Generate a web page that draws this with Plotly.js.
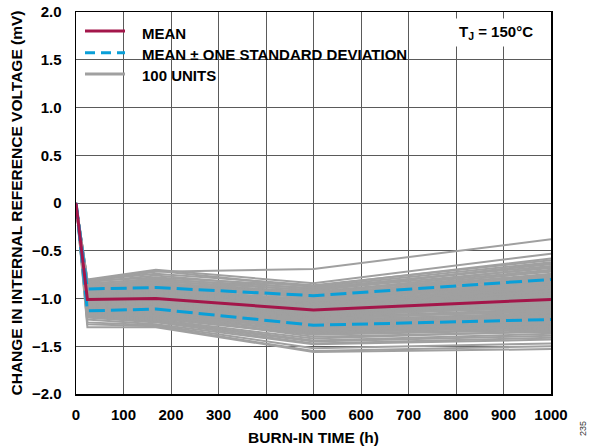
<!DOCTYPE html>
<html>
<head>
<meta charset="utf-8">
<script src="https://cdn.plot.ly/plotly-3.0.1.min.js"></script>
<style>
html,body{margin:0;padding:0;background:#fff;}
#chart{width:592px;height:448px;}
</style>
</head>
<body>
<div id="chart"></div>
<script>
// ---------------- DATA ----------------
const hours = [0, 24, 168, 500, 1000];
const meanMv = [0, -1.01, -1.00, -1.12, -1.01];
const meanPlusSdMv = [0, -0.90, -0.885, -0.97, -0.80];
const meanMinusSdMv = [0, -1.13, -1.11, -1.28, -1.22];
const unitStartMv = 0;
const unitsAt24h = [
 -0.82,-0.80,-0.81,-0.81,-0.82,-0.83,-0.84,-0.85,-0.86,-0.86,
 -0.87,-0.88,-0.88,-0.89,-0.89,-0.90,-0.90,-0.90,-0.91,-0.91,
 -0.92,-0.92,-0.93,-0.93,-0.93,-0.94,-0.94,-0.94,-0.95,-0.95,
 -0.95,-0.96,-0.96,-0.96,-0.97,-0.97,-0.97,-0.97,-0.98,-0.98,
 -0.98,-0.99,-0.99,-0.99,-1.00,-1.00,-1.00,-1.00,-1.01,-1.01,
 -1.01,-1.01,-1.02,-1.02,-1.02,-1.03,-1.03,-1.03,-1.03,-1.04,
 -1.04,-1.04,-1.05,-1.05,-1.05,-1.06,-1.06,-1.06,-1.06,-1.07,
 -1.07,-1.07,-1.08,-1.08,-1.08,-1.09,-1.09,-1.10,-1.10,-1.10,
 -1.11,-1.11,-1.12,-1.12,-1.12,-1.13,-1.13,-1.14,-1.15,-1.15,
 -1.16,-1.16,-1.17,-1.18,-1.19,-1.20,-1.22,-1.25,-1.27,-1.30
];
const unitsAt168h = [
 -0.72,-0.70,-0.74,-0.71,-0.78,-0.76,-0.80,-0.79,-0.82,-0.84,
 -0.81,-0.85,-0.83,-0.87,-0.86,-0.88,-0.84,-0.89,-0.90,-0.87,
 -0.91,-0.89,-0.92,-0.93,-0.90,-0.94,-0.92,-0.95,-0.93,-0.96,
 -0.94,-0.97,-0.95,-0.96,-0.98,-0.96,-0.97,-0.99,-0.98,-0.97,
 -1.00,-0.98,-0.99,-1.01,-0.99,-1.00,-1.02,-1.00,-1.01,-1.03,
 -1.01,-1.02,-1.04,-1.02,-1.03,-1.05,-1.03,-1.04,-1.06,-1.04,
 -1.05,-1.07,-1.05,-1.06,-1.08,-1.06,-1.07,-1.09,-1.08,-1.10,
 -1.08,-1.11,-1.09,-1.12,-1.10,-1.13,-1.11,-1.14,-1.12,-1.15,
 -1.13,-1.16,-1.14,-1.17,-1.15,-1.18,-1.16,-1.19,-1.17,-1.20,
 -1.21,-1.18,-1.22,-1.23,-1.24,-1.25,-1.27,-1.28,-1.29,-1.30
];
const unitsAt500h = [
 -0.69,-0.84,-0.86,-0.88,-0.87,-0.90,-0.89,-0.92,-0.91,-0.93,
 -0.95,-0.94,-0.96,-0.97,-0.95,-0.98,-1.00,-0.99,-1.01,-0.97,
 -1.02,-1.03,-1.01,-1.04,-1.05,-1.03,-1.06,-1.05,-1.07,-1.06,
 -1.08,-1.07,-1.09,-1.08,-1.10,-1.09,-1.11,-1.10,-1.12,-1.11,
 -1.13,-1.12,-1.10,-1.14,-1.13,-1.11,-1.15,-1.14,-1.12,-1.16,
 -1.13,-1.15,-1.17,-1.14,-1.16,-1.18,-1.17,-1.19,-1.16,-1.20,
 -1.18,-1.21,-1.19,-1.22,-1.20,-1.23,-1.21,-1.24,-1.22,-1.25,
 -1.23,-1.26,-1.24,-1.27,-1.25,-1.28,-1.26,-1.29,-1.27,-1.30,
 -1.28,-1.31,-1.30,-1.32,-1.33,-1.34,-1.32,-1.35,-1.36,-1.37,
 -1.38,-1.40,-1.42,-1.44,-1.45,-1.47,-1.48,-1.52,-1.55,-1.56
];
const unitsAt1000h = [
 -0.38,-0.53,-0.60,-0.62,-0.58,-0.64,-0.66,-0.63,-0.68,-0.70,
 -0.67,-0.72,-0.74,-0.71,-0.76,-0.75,-0.78,-0.77,-0.80,-0.79,
 -0.82,-0.81,-0.84,-0.83,-0.86,-0.85,-0.88,-0.87,-0.90,-0.89,
 -0.91,-0.92,-0.93,-0.94,-0.92,-0.95,-0.96,-0.97,-0.95,-0.98,
 -0.99,-0.97,-1.00,-0.99,-1.01,-1.00,-1.02,-1.03,-1.01,-1.04,
 -1.05,-1.03,-1.06,-1.07,-1.05,-1.08,-1.09,-1.07,-1.10,-1.11,
 -1.09,-1.12,-1.13,-1.11,-1.14,-1.15,-1.13,-1.16,-1.17,-1.15,
 -1.18,-1.19,-1.20,-1.18,-1.21,-1.22,-1.23,-1.21,-1.24,-1.25,
 -1.26,-1.24,-1.27,-1.28,-1.26,-1.29,-1.30,-1.31,-1.29,-1.32,
 -1.33,-1.35,-1.34,-1.37,-1.39,-1.41,-1.43,-1.47,-1.50,-1.53
];
const xTickVals = [0, 100, 200, 300, 400, 500, 600, 700, 800, 900, 1000];
const yTickVals = [-2.0, -1.5, -1.0, -0.5, 0, 0.5, 1.0, 1.5, 2.0];
const yTickText = ["\u22122.0", "\u22121.5", "\u22121.0", "\u22120.5", "0", "0.5", "1.0", "1.5", "2.0"];
const legendLabels = ["MEAN", "MEAN ± ONE STANDARD DEVIATION", "100 UNITS"];
const conditionLabel = "T<sub>J</sub> = 150°C";
const figureNumber = "235";

// ---------------- STYLE ----------------
const FONT = "Liberation Sans, Arial, Helvetica, sans-serif";
const GRAY = "#a0a0a0";
const RED = "#a3164a";
const BLUE = "#0a9fd8";
const DASH = "16px,6px";

const traces = [];
for (let i = 0; i < unitsAt24h.length; i++) {
  traces.push({
    x: hours,
    y: [unitStartMv, unitsAt24h[i], unitsAt168h[i], unitsAt500h[i], unitsAt1000h[i]],
    mode: "lines",
    line: {color: GRAY, width: 2},
    name: legendLabels[2],
    showlegend: false,
    hoverinfo: "skip"
  });
}
traces.push({x: hours, y: meanPlusSdMv, mode: "lines", line: {color: BLUE, width: 3, dash: DASH}, name: legendLabels[1], showlegend: false});
traces.push({x: hours, y: meanMinusSdMv, mode: "lines", line: {color: BLUE, width: 3, dash: DASH}, name: legendLabels[1], showlegend: false});
traces.push({x: hours, y: meanMv, mode: "lines", line: {color: RED, width: 3}, name: legendLabels[0], showlegend: false});

// plot-area pixel helpers for the hand-drawn legend box
const L = 76, R = 41, T = 12, B = 54, W = 592, H = 448;
const pw = W - L - R, ph = H - T - B;
const px = v => (v - L) / pw;
const py = v => (H - B - v) / ph;

const legendRows = [
  {lineY: 31, textY: 33.5, color: RED, dash: "solid"},
  {lineY: 52.7, textY: 54.5, color: BLUE, dash: "10px,6px"},
  {lineY: 74, textY: 75.5, color: GRAY, dash: "solid"}
];

const shapes = [{
  type: "rect", xref: "paper", yref: "paper",
  x0: px(77), x1: px(425), y0: py(86), y1: py(19),
  fillcolor: "#fff", line: {width: 0}, layer: "between"
}];
const annotations = [];
legendRows.forEach((r, i) => {
  shapes.push({
    type: "line", xref: "paper", yref: "paper",
    x0: px(85), x1: px(125), y0: py(r.lineY), y1: py(r.lineY),
    line: {color: r.color, width: 3, dash: r.dash}, layer: "above"
  });
  annotations.push({
    xref: "paper", yref: "paper", x: px(140), y: py(r.textY),
    xanchor: "left", yanchor: "middle", showarrow: false,
    text: legendLabels[i],
    font: {family: FONT, size: 15, color: "#000", weight: "bold"}
  });
});
annotations.push({
  xref: "paper", yref: "paper", x: px(496), y: py(32),
  xanchor: "center", yanchor: "middle", showarrow: false,
  text: conditionLabel, bgcolor: "#fff", borderpad: 4,
  font: {family: FONT, size: 15, color: "#000", weight: "bold"}
});
annotations.push({
  xref: "paper", yref: "paper", x: px(583), y: py(429),
  xanchor: "center", yanchor: "middle", showarrow: false,
  text: figureNumber, textangle: -90,
  font: {family: FONT, size: 9, color: "#333"}
});

const axisCommon = {
  showgrid: true, gridcolor: "#5a5a5a", gridwidth: 1,
  zeroline: false, showline: true, linecolor: "#000", linewidth: 1.5, mirror: true,
  ticks: "", tickfont: {family: FONT, size: 15, color: "#000", weight: "bold"}
};

const layout = {
  width: W, height: H,
  margin: {l: L, r: R, t: T, b: B, pad: 0},
  paper_bgcolor: "#fff", plot_bgcolor: "#fff",
  showlegend: false,
  font: {family: FONT, color: "#000"},
  xaxis: Object.assign({}, axisCommon, {
    range: [0, 1000], tickmode: "array", tickvals: xTickVals,
    ticklabelstandoff: 6,
    title: {text: "BURN-IN TIME (h)", standoff: 10,
            font: {family: FONT, size: 15.5, color: "#000", weight: "bold"}}
  }),
  yaxis: Object.assign({}, axisCommon, {
    range: [-2, 2], tickmode: "array", tickvals: yTickVals, ticktext: yTickText,
    ticklabelstandoff: 10,
    title: {text: "CHANGE IN INTERNAL REFERENCE VOLTAGE (mV)", standoff: 5,
            font: {family: FONT, size: 15.5, color: "#000", weight: "bold"}}
  }),
  shapes: shapes,
  annotations: annotations
};

Plotly.newPlot("chart", traces, layout, {staticPlot: true, displayModeBar: false});
</script>
</body>
</html>
